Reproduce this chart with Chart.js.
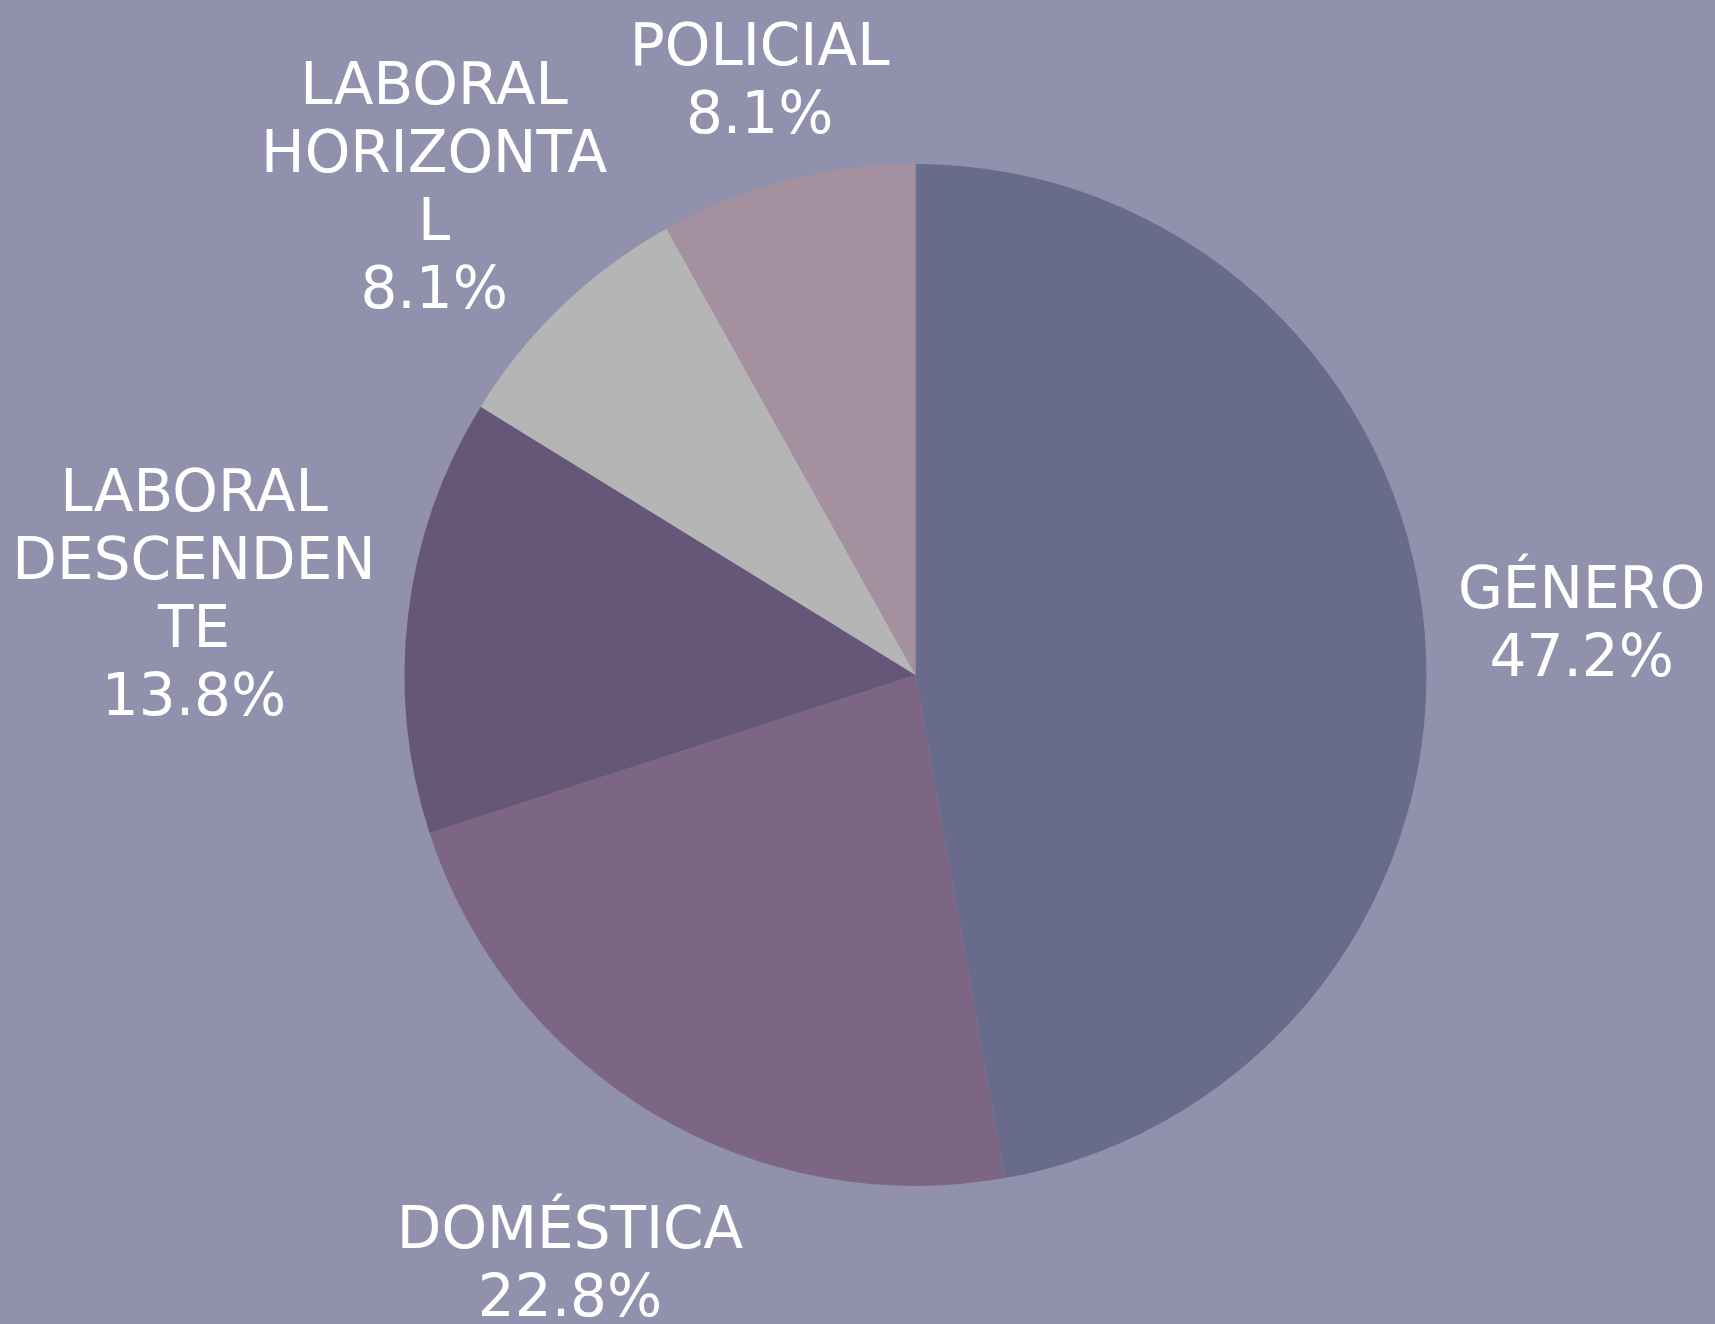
<!DOCTYPE html>
<html>
<head>
<meta charset="utf-8">
<script src="https://cdn.jsdelivr.net/npm/chart.js@4/dist/chart.umd.min.js"></script>
<style>
  html, body { margin: 0; padding: 0; background: #9191ae; }
  canvas { display: block; }
</style>
</head>
<body>
<canvas id="pieChart" width="1715" height="1324"></canvas>
<script>
// categories (wrapped as in the original) and shares in %
const categories = [
    ["GÉNERO"],
    ["DOMÉSTICA"],
    ["LABORAL", "DESCENDEN", "TE"],
    ["LABORAL", "HORIZONTA", "L"],
    ["POLICIAL"]
];
const shares = [47.2, 22.8, 13.8, 8.1, 8.1];
const sliceColors = ["#686b8b", "#7c6683", "#665778", "#b5b5b5", "#a4909f"];

// labels drawn outside each slice, pushed out along the slice's mid angle
const outsideLabels = {
    id: "outsideLabels",
    afterDatasetsDraw(chart, args, opts) {
        const ctx = chart.ctx;
        const meta = chart.getDatasetMeta(0);
        ctx.save();
        ctx.font = opts.fontSize + "px 'DejaVu Sans', Verdana, sans-serif";
        ctx.fillStyle = "#ffffff";
        ctx.textAlign = "center";
        ctx.textBaseline = "middle";
        meta.data.forEach((arc, i) => {
            const p = arc.getProps(["x", "y", "startAngle", "endAngle", "outerRadius"], true);
            const mid = (p.startAngle + p.endAngle) / 2;
            const dx = Math.cos(mid), dy = Math.sin(mid);
            const lines = categories[i].concat([shares[i].toFixed(1) + "%"]);
            const w = Math.max(...lines.map(l => ctx.measureText(l).width));
            const h = lines.length * opts.lineHeight;
            const nudge = opts.nudge[i] || [0, 0];
            const cx = p.x + dx * (p.outerRadius + opts.gap + w / 2) + nudge[0];
            const cy = p.y + dy * (p.outerRadius + opts.gap) + dy * h / 2 + nudge[1];
            lines.forEach((l, k) => {
                ctx.fillText(l, cx, cy - h / 2 + opts.lineHeight * (k + 0.5));
            });
        });
        ctx.restore();
    }
};

const ctx = document.getElementById("pieChart").getContext("2d");
new Chart(ctx, {
    type: "pie",
    data: {
        labels: categories.map(c => c.join("")),
        datasets: [{
            data: shares,
            backgroundColor: sliceColors,
            borderWidth: 0
        }]
    },
    options: {
        responsive: false,
        animation: false,
        layout: { padding: { top: 164, bottom: 138, left: 300, right: 184 } },
        plugins: {
            legend: { display: false },
            tooltip: { enabled: false },
            outsideLabels: {
                fontSize: 58,
                lineHeight: 68,
                gap: 34,
                nudge: [[0, 6], [24, 66], [0, 4], [15, 8], [14, 2]]
            }
        }
    },
    plugins: [outsideLabels]
});
</script>
</body>
</html>
